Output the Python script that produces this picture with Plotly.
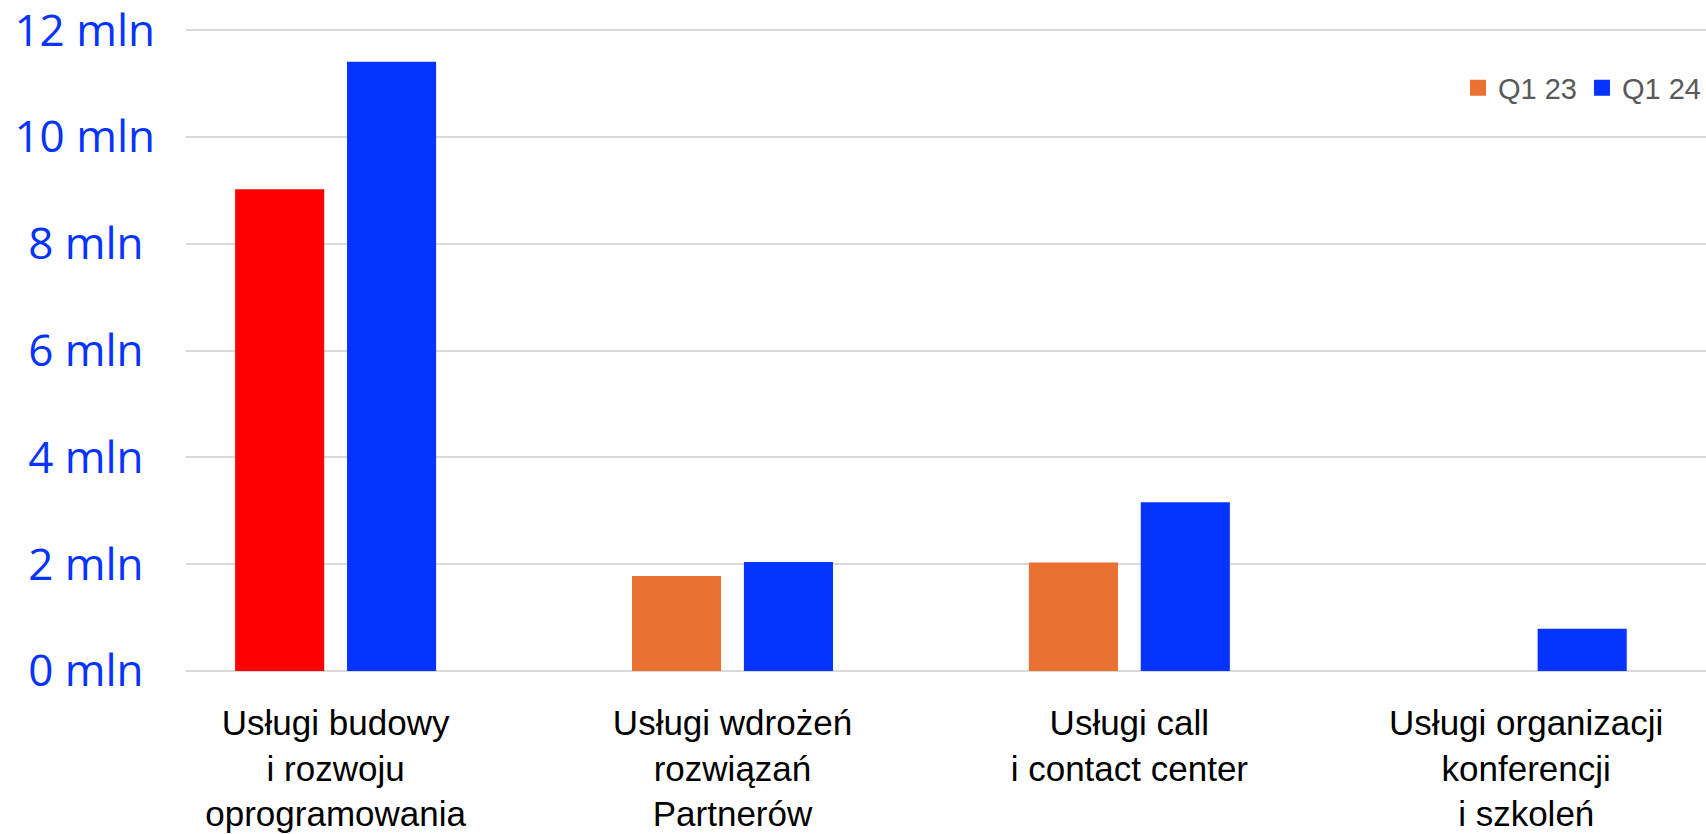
import plotly.graph_objects as go

categories = [
    "Usługi budowy<br>i rozwoju<br>oprogramowania",
    "Usługi wdrożeń<br>rozwiązań<br>Partnerów",
    "Usługi call<br>i contact center",
    "Usługi organizacji<br>konferencji<br>i szkoleń",
]
q1_23 = [9.02, 1.78, 2.03, None]
q1_24 = [11.41, 2.04, 3.16, 0.79]
q1_23_colors = ["#FF0000", "#E97132", "#E97132", "#E97132"]
tick_vals = [0, 2, 4, 6, 8, 10, 12]
tick_text = ["0 mln\u00a0", "2 mln\u00a0", "4 mln\u00a0", "6 mln\u00a0", "8 mln\u00a0", "10 mln", "12 mln"]

ORANGE = "#E97132"
BLUE = "#0533FF"

fig = go.Figure()
fig.add_trace(go.Bar(x=categories, y=q1_23, name="Q1 23", marker=dict(color=q1_23_colors, line=dict(width=0)), showlegend=False))
fig.add_trace(go.Bar(x=categories, y=q1_24, name="Q1 24", marker=dict(color=BLUE, line=dict(width=0)), showlegend=False))
# legend entries
fig.add_trace(go.Scatter(x=[None], y=[None], mode="markers", name="Q1 23",
                         marker=dict(symbol="square", size=18, color=ORANGE)))
fig.add_trace(go.Scatter(x=[None], y=[None], mode="markers", name="Q1 24",
                         marker=dict(symbol="square", size=18, color=BLUE)))

fig.update_layout(
    width=1706, height=834,
    margin=dict(l=186, r=0, t=28, b=163, autoexpand=False),
    paper_bgcolor="white", plot_bgcolor="white",
    barmode="group", bargap=0.436, bargroupgap=0.204,
    legend=dict(orientation="h", x=1.0, xanchor="right", y=0.907, yanchor="middle",
                font=dict(family="Liberation Sans, Arial", size=29, color="#595959"),
                bgcolor="rgba(0,0,0,0)", itemwidth=30, tracegroupgap=0),
    xaxis=dict(type="category", range=[-0.377, 3.453], showgrid=False, showline=False,
               zeroline=False, ticks="", automargin=False, ticklabelstandoff=28,
               ticklabeloverflow="allow",
               tickfont=dict(family="Liberation Sans, Arial", size=35, color="#000000")),
    yaxis=dict(range=[0, 12.04], tickvals=tick_vals, ticktext=tick_text, showgrid=True,
               gridcolor="#D9D9D9", gridwidth=1.5, zeroline=True, zerolinecolor="#D9D9D9",
               zerolinewidth=1.5, showline=False, ticks="", automargin=False,
               ticklabelstandoff=30, ticklabeloverflow="allow",
               tickfont=dict(family="Open Sans, DejaVu Sans", size=44, color="#0533FF")),
)

fig.write_html("out.html", config={"displayModeBar": False},
               post_script="document.body.style.margin='0';")
